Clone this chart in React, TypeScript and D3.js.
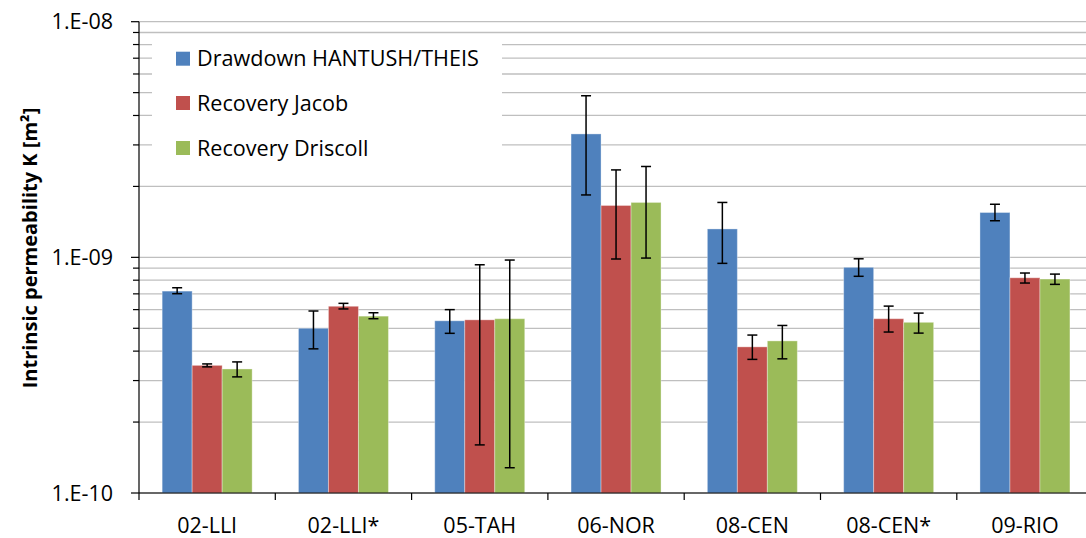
import React from "react";
import * as d3 from "d3";

const categories = ["02-LLI", "02-LLI*", "05-TAH", "06-NOR", "08-CEN", "08-CEN*", "09-RIO"];
const seriesNames = ["Drawdown HANTUSH/THEIS", "Recovery Jacob", "Recovery Driscoll"];
const seriesColors = ["#4F81BD", "#C0504D", "#9BBB59"];

const drawdown = [7.19e-10, 5.0e-10, 5.38e-10, 3.34e-9, 1.32e-9, 9.07e-10, 1.55e-9];
const drawdownLow = [7.01e-10, 4.09e-10, 4.76e-10, 1.84e-9, 9.43e-10, 8.31e-10, 1.43e-9];
const drawdownHigh = [7.43e-10, 5.92e-10, 6.0e-10, 4.85e-9, 1.71e-9, 9.86e-10, 1.68e-9];

const jacob = [3.48e-10, 6.2e-10, 5.43e-10, 1.66e-9, 4.17e-10, 5.49e-10, 8.19e-10];
const jacobLow = [3.43e-10, 6.04e-10, 1.6e-10, 9.84e-10, 3.69e-10, 4.82e-10, 7.78e-10];
const jacobHigh = [3.53e-10, 6.38e-10, 9.3e-10, 2.35e-9, 4.68e-10, 6.21e-10, 8.58e-10];

const driscoll = [3.36e-10, 5.63e-10, 5.49e-10, 1.71e-9, 4.42e-10, 5.3e-10, 8.09e-10];
const driscollLow = [3.11e-10, 5.49e-10, 1.28e-10, 9.93e-10, 3.71e-10, 4.77e-10, 7.68e-10];
const driscollHigh = [3.6e-10, 5.82e-10, 9.74e-10, 2.43e-9, 5.14e-10, 5.8e-10, 8.49e-10];

const majorTicks = [1e-10, 1e-9, 1e-8];
const majorTickLabels = ["1.E-10", "1.E-09", "1.E-08"];
const yTitle = "Intrinsic permeability K [m²]";

const W = 1086;
const H = 538;
const FONT = "'Open Sans', sans-serif";

export default function App() {
  const left = 139;
  const top = 21.7;
  const bottom = 493;
  const right = left + 7 * 136.3;

  const y = d3.scaleLog().domain([1e-10, 1e-8]).range([bottom, top]);
  const x0 = d3.scaleBand<string>().domain(categories).range([left, right]).paddingInner(0).paddingOuter(0);
  const x1 = d3.scaleBand<string>().domain(seriesNames).range([0, x0.bandwidth()]).paddingInner(0).paddingOuter(0.772);

  const series = [
    { name: seriesNames[0], values: drawdown, low: drawdownLow, high: drawdownHigh, color: seriesColors[0] },
    { name: seriesNames[1], values: jacob, low: jacobLow, high: jacobHigh, color: seriesColors[1] },
    { name: seriesNames[2], values: driscoll, low: driscollLow, high: driscollHigh, color: seriesColors[2] },
  ];

  const allTicks = y.ticks();
  const minorTicks = allTicks.filter((t) => !majorTicks.some((m) => Math.abs(m - t) / m < 1e-6));

  const boundaries = categories.map((c) => x0(c)!).concat([right]);
  const legendRows = [58.7, 103, 148];

  return (
    <div style={{ position: "absolute", left: 0, top: 0 }}>
      <svg width={W} height={H} style={{ display: "block", background: "#fff" }}>
        {allTicks.map((t, i) => (
          <line key={"g" + i} x1={left} x2={W} y1={y(t)} y2={y(t)} stroke="#bfbfbf" strokeWidth={1.3} />
        ))}
        <rect x={152} y={36} width={350} height={146} fill="#fff" />
        {seriesNames.map((n, i) => (
          <g key={"l" + i}>
            <rect x={176} y={legendRows[i] - 7} width={14} height={14} fill={seriesColors[i]} />
            <text x={197} y={legendRows[i]} dy="0.36em" fontFamily={FONT} fontSize={21.6} fill="#000">
              {n}
            </text>
          </g>
        ))}
        {series.map((s, si) =>
          categories.map((c, ci) => {
            const bx = x0(c)! + x1(s.name)!;
            const by = y(s.values[ci]);
            return (
              <rect
                key={"b" + si + "-" + ci}
                x={bx}
                y={by}
                width={x1.bandwidth()}
                height={bottom - by}
                fill={s.color}
                stroke="rgba(255,255,255,0.35)"
                strokeWidth={1}
              />
            );
          })
        )}
        {series.map((s, si) =>
          categories.map((c, ci) => {
            const cx = x0(c)! + x1(s.name)! + x1.bandwidth() / 2;
            const yl = y(s.low[ci]);
            const yh = y(s.high[ci]);
            return (
              <g key={"e" + si + "-" + ci} stroke="#000" strokeWidth={1.5}>
                <line x1={cx} x2={cx} y1={yh} y2={yl} />
                <line x1={cx - 5} x2={cx + 5} y1={yh} y2={yh} />
                <line x1={cx - 5} x2={cx + 5} y1={yl} y2={yl} />
              </g>
            );
          })
        )}
        <line x1={left} x2={left} y1={top} y2={bottom} stroke="#000" strokeWidth={1.2} />
        {majorTicks.map((t, i) => (
          <g key={"mt" + i}>
            <line x1={left - 8} x2={left} y1={y(t)} y2={y(t)} stroke="#000" strokeWidth={1.2} />
            <text x={113} y={y(t)} dy="0.36em" textAnchor="end" fontFamily={FONT} fontSize={21.5} fill="#000">
              {majorTickLabels[i]}
            </text>
          </g>
        ))}
        {minorTicks.map((t, i) => (
          <line key={"mn" + i} x1={left - 6} x2={left} y1={y(t)} y2={y(t)} stroke="#000" strokeWidth={1.2} />
        ))}
        <line x1={left} x2={W} y1={bottom} y2={bottom} stroke="#000" strokeWidth={1.2} />
        {boundaries.map((bx, i) => (
          <line key={"xt" + i} x1={bx} x2={bx} y1={bottom} y2={bottom + 7} stroke="#000" strokeWidth={1.2} />
        ))}
        {categories.map((c, i) => (
          <text
            key={"xl" + i}
            x={x0(c)! + x0.bandwidth() / 2}
            y={533}
            textAnchor="middle"
            fontFamily={FONT}
            fontSize={21.5}
            fill="#000"
          >
            {c}
          </text>
        ))}
        <text
          transform={`translate(37,248) rotate(-90)`}
          textAnchor="middle"
          fontFamily={FONT}
          fontWeight="bold"
          fontSize={20}
          fill="#000"
        >
          {yTitle}
        </text>
      </svg>
    </div>
  );
}
